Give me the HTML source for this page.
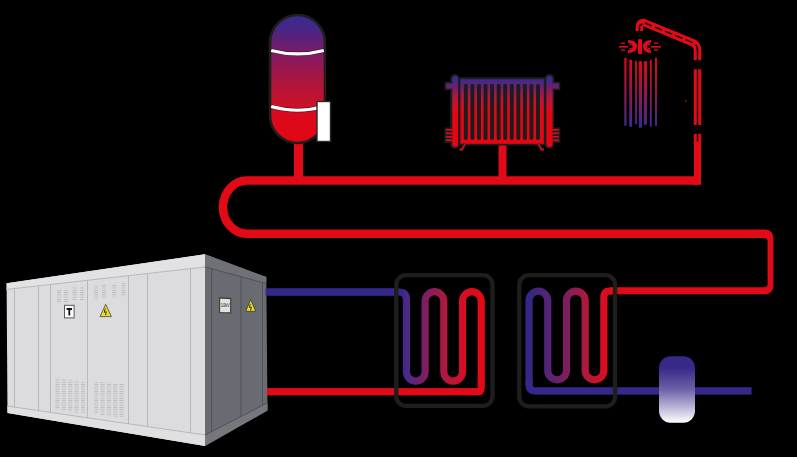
<!DOCTYPE html>
<html><head><meta charset="utf-8">
<style>
html,body{margin:0;padding:0;background:#000;width:797px;height:457px;overflow:hidden}
svg{display:block}
</style></head>
<body>
<svg width="797" height="457" viewBox="0 0 797 457">
<defs>
  <linearGradient id="tankG" gradientUnits="userSpaceOnUse" x1="0" y1="16" x2="0" y2="142">
    <stop offset="0" stop-color="#3b2a8e"/>
    <stop offset="0.08" stop-color="#43288a"/>
    <stop offset="0.19" stop-color="#5e1f76"/>
    <stop offset="0.29" stop-color="#7a1c68"/>
    <stop offset="0.35" stop-color="#8c185a"/>
    <stop offset="0.51" stop-color="#aa163e"/>
    <stop offset="0.67" stop-color="#c5122e"/>
    <stop offset="0.74" stop-color="#d00f28"/>
    <stop offset="0.78" stop-color="#dc0a1c"/>
    <stop offset="1" stop-color="#e30613"/>
  </linearGradient>
  <linearGradient id="radG" gradientUnits="userSpaceOnUse" x1="0" y1="78" x2="0" y2="113">
    <stop offset="0" stop-color="#3d2a8e"/>
    <stop offset="0.1" stop-color="#47288a"/>
    <stop offset="0.26" stop-color="#6e1f6e"/>
    <stop offset="0.4" stop-color="#961a52"/>
    <stop offset="0.63" stop-color="#be1436"/>
    <stop offset="0.88" stop-color="#de0a1b"/>
    <stop offset="1" stop-color="#e30613"/>
  </linearGradient>
  <linearGradient id="waterG" gradientUnits="userSpaceOnUse" x1="0" y1="58" x2="0" y2="127">
    <stop offset="0" stop-color="#e30613"/>
    <stop offset="1" stop-color="#3b2b8c"/>
  </linearGradient>
  <linearGradient id="hx1G" gradientUnits="userSpaceOnUse" x1="402" y1="0" x2="485" y2="0">
    <stop offset="0" stop-color="#382889"/>
    <stop offset="0.053" stop-color="#4b2887"/>
    <stop offset="0.278" stop-color="#7d1e64"/>
    <stop offset="0.504" stop-color="#aa1941"/>
    <stop offset="0.729" stop-color="#d20f28"/>
    <stop offset="0.954" stop-color="#e30a16"/>
    <stop offset="1" stop-color="#e30a16"/>
  </linearGradient>
  <linearGradient id="hx2G" gradientUnits="userSpaceOnUse" x1="525" y1="0" x2="612" y2="0">
    <stop offset="0" stop-color="#30288a"/>
    <stop offset="0.046" stop-color="#322882"/>
    <stop offset="0.263" stop-color="#552378"/>
    <stop offset="0.476" stop-color="#7d1e5f"/>
    <stop offset="0.695" stop-color="#af193c"/>
    <stop offset="0.906" stop-color="#d70f23"/>
    <stop offset="1" stop-color="#e30a16"/>
  </linearGradient>
  <linearGradient id="smallTankG" gradientUnits="userSpaceOnUse" x1="0" y1="356" x2="0" y2="423">
    <stop offset="0" stop-color="#36298a"/>
    <stop offset="0.18" stop-color="#37298a"/>
    <stop offset="0.5" stop-color="#6d62a8"/>
    <stop offset="1" stop-color="#ffffff"/>
  </linearGradient>
  <pattern id="vent" patternUnits="userSpaceOnUse" width="4" height="2.3">
    <rect x="0" y="0" width="4" height="1" fill="#bdbdc1"/>
  </pattern>
</defs>
<rect width="797" height="457" fill="#000"/>

<!-- ===== main red pipe ===== -->
<g fill="none" stroke="#e30a17" stroke-width="8.6" stroke-linejoin="miter">
  <path d="M697.5 180.5 H247 A24 26.65 0 0 0 247 233.8 H690"/>
</g>
<path fill="#e30a17" d="M690 229.5 H765.4 A8 8 0 0 1 773.4 237.5 V286.3 A8 8 0 0 1 765.4 294.3 H610 V287.3 H764 A3.6 3.6 0 0 0 767.6 283.7 V241.6 A3.6 3.6 0 0 0 764 238.1 H690 Z"/>
<rect x="694" y="142" width="7" height="42.8" fill="#e30a17"/>
<!-- tank drop pipe -->
<rect x="294" y="140" width="9" height="42" fill="#e30a17"/>
<!-- radiator drop pipe -->
<rect x="498.5" y="144" width="8" height="38" fill="#e30a17"/>

<!-- ===== expansion tank ===== -->
<rect x="270" y="15" width="55" height="128" rx="27.5" ry="27.5" fill="url(#tankG)" stroke="#1e1e1c" stroke-width="2.6"/>
<path d="M271.2 50.4 Q297.5 57.4 323.8 50.4" fill="none" stroke="#000" stroke-opacity="0.4" stroke-width="4.6"/>
<path d="M271.2 50.4 Q297.5 57.4 323.8 50.4" fill="none" stroke="#fff" stroke-width="3.1"/>
<path d="M271.2 106.6 Q297.5 114 323.8 106.6" fill="none" stroke="#000" stroke-opacity="0.4" stroke-width="4.6"/>
<path d="M271.2 106.6 Q297.5 114 323.8 106.6" fill="none" stroke="#fff" stroke-width="3.1"/>
<rect x="317" y="101.5" width="13.5" height="40" fill="#fff" stroke="#2a2a2a" stroke-width="1.4"/>

<!-- ===== radiator ===== -->
<g fill="#1e1e1c">
  <rect x="458.5" y="77.2" width="87.2" height="68.4"/>
  <rect x="450.2" y="74" width="9.6" height="75" rx="4.8"/>
  <rect x="544.5" y="74" width="9.8" height="75" rx="4.9"/>
  <rect x="444.5" y="81.8" width="8" height="8.4"/>
  <rect x="552" y="81.8" width="8.3" height="8.4"/>
  <rect x="444.5" y="127.5" width="8" height="15.5"/>
  <rect x="552" y="127.5" width="8.3" height="15.5"/>
</g>
<g fill="url(#radG)">
  <rect x="460.5" y="79.2" width="83.3" height="64.6"/>
  <rect x="452.3" y="76" width="5.8" height="71" rx="2.9"/>
  <rect x="546.4" y="76" width="6.2" height="71" rx="3.1"/>
  <rect x="446" y="83.4" width="6.5" height="5.2"/>
  <rect x="552.5" y="83.4" width="6.3" height="5.2"/>
</g>
<g fill="#1c1c1c">
  <rect x="463.90" y="83.8" width="3.9" height="56.2" rx="1.95"/>
  <rect x="470.46" y="83.8" width="3.9" height="56.2" rx="1.95"/>
  <rect x="477.02" y="83.8" width="3.9" height="56.2" rx="1.95"/>
  <rect x="483.58" y="83.8" width="3.9" height="56.2" rx="1.95"/>
  <rect x="490.14" y="83.8" width="3.9" height="56.2" rx="1.95"/>
  <rect x="496.70" y="83.8" width="3.9" height="56.2" rx="1.95"/>
  <rect x="503.26" y="83.8" width="3.9" height="56.2" rx="1.95"/>
  <rect x="509.82" y="83.8" width="3.9" height="56.2" rx="1.95"/>
  <rect x="516.38" y="83.8" width="3.9" height="56.2" rx="1.95"/>
  <rect x="522.94" y="83.8" width="3.9" height="56.2" rx="1.95"/>
  <rect x="529.50" y="83.8" width="3.9" height="56.2" rx="1.95"/>
  <rect x="536.06" y="83.8" width="3.9" height="56.2" rx="1.95"/>
</g>
<g fill="#e30a17">
  <rect x="446" y="129" width="6.5" height="1.6"/>
  <rect x="446" y="132.5" width="6.5" height="1.6"/>
  <rect x="446" y="136" width="6.5" height="1.6"/>
  <rect x="446" y="139.5" width="6.5" height="1.6"/>
  <rect x="552.5" y="129" width="6.3" height="1.6"/>
  <rect x="552.5" y="132.5" width="6.3" height="1.6"/>
  <rect x="552.5" y="136" width="6.3" height="1.6"/>
  <rect x="552.5" y="139.5" width="6.3" height="1.6"/>
</g>
<g fill="none" stroke="#1e1e1c" stroke-width="3.5">
  <path d="M465 144 L462 149.5 H459.5"/>
  <path d="M538.5 144 L541.5 149.5 H544"/>
</g>
<g fill="none" stroke="#e30a17" stroke-width="1.5">
  <path d="M465 144 L462 149.5 H459.5"/>
  <path d="M538.5 144 L541.5 149.5 H544"/>
</g>

<!-- ===== shower ===== -->
<g fill="none" stroke="#e30a17" stroke-width="7.5">
  <path d="M639.3 31 V27 Q639.3 22.4 644 22.6 L693 42.7 Q697.5 44.7 697.5 50.2 V60.2"/>
  <path d="M697.5 69.2 V125 M697.5 133.8 V144"/>
</g>
<g fill="none" stroke="#000" stroke-width="1.4">
  <path d="M639.5 31.5 V26.5 Q639.5 24.3 642.5 24.3"/>
  <path d="M697.5 48 V61 M697.5 69 V126 M697.5 133 V141.5"/>
  <path d="M644 22.6 L693 42.7 Q697.5 44.7 697.5 50.2" stroke-dasharray="7.5 3.5" stroke-dashoffset="-1"/>
</g>
<rect x="685" y="100.5" width="1.5" height="1.2" fill="#e30a17"/>
<g fill="#e30a17">
  <rect x="638" y="39.2" width="4" height="14.8"/>
  <path d="M628 40 Q637 40 637 46.5 Q637 53 628 53 V50.3 Q632.5 50.3 632.5 46.5 Q632.5 42.7 628 42.7 Z"/>
  <rect x="629.5" y="43.5" width="2" height="1.6"/><rect x="629.5" y="48" width="2" height="1.6"/>
  <path d="M651 40 Q643 40 643 46.5 Q643 53 651 53 V50.3 Q647.2 50.3 647.2 46.5 Q647.2 42.7 651 42.7 Z"/>
  <rect x="648" y="43.5" width="2" height="1.6"/><rect x="648" y="48" width="2" height="1.6"/>
  <rect x="619" y="46" width="9" height="1.6"/>
  <rect x="621" y="42.5" width="4" height="1.3"/>
  <rect x="621" y="49.5" width="4" height="1.3"/>
  <rect x="651" y="46" width="10" height="1.6"/>
  <rect x="654" y="42.5" width="4" height="1.3"/>
  <rect x="654" y="49.5" width="4" height="1.3"/>
</g>
<g fill="url(#waterG)">
  <rect x="624.3" y="57.8" width="2.2" height="68"/>
  <rect x="629.3" y="59.7" width="2.8" height="67"/>
  <rect x="635" y="60.8" width="1.9" height="63.5"/>
  <rect x="638.8" y="61.2" width="3.2" height="66.5"/>
  <rect x="643.8" y="61.2" width="3.2" height="63.5"/>
  <rect x="650" y="59.7" width="1.8" height="67"/>
  <rect x="655" y="57.8" width="2" height="68"/>
</g>

<!-- ===== transformer ===== -->
<g>
  <polygon points="6.6,283.2 205,254.2 205,446 7.5,413" fill="#dcdcdf"/>
  <polygon points="205,254.2 266.3,277 267.5,410.6 205,446" fill="#696b72"/>
  <polygon points="205,254.2 266.3,277 266.3,283.5 205,267" fill="#6f7177"/>
  <polygon points="205,435 267.5,403 267.5,410.6 205,446" fill="#75777d"/>
  <polygon points="6.6,283.2 205,254.2 205,267 6.6,289.5" fill="#e2e2e5"/>
  <polygon points="7.4,406 205,435 205,446 7.5,413" fill="#e0e0e3"/>
  <g stroke="#b8b8bc" stroke-width="1" fill="none">
    <path d="M6 289.5 L205 267"/>
    <path d="M7 406 L205 435"/>
    <path d="M14.5 288.6 V407.1 M38.5 286 V410.6 M50.5 284.5 V412.5 M87.5 280.5 V417.8 M128.5 275.7 V424 M147.5 273.5 V426.8 M190.5 268.7 V433"/>
  </g>
  <g stroke="#4e4f54" stroke-width="0.9" fill="none">
    <path d="M205 267 L266 283.5"/>
    <path d="M205 435 L267 403"/>
    <path d="M211.7 268.8 V431.6 M241 276.7 V416.5 M262.5 282.5 V405.5"/>
  </g>
  <!-- top vents -->
  <g fill="url(#vent)">
    <rect x="57" y="289" width="4" height="13.6"/>
    <rect x="63.8" y="289" width="4" height="13.6"/>
    <rect x="72.6" y="287" width="4" height="13.6"/>
    <rect x="80.1" y="287" width="4" height="13.6"/>
    <rect x="94.2" y="285.5" width="4" height="14"/>
    <rect x="102" y="285" width="4" height="14"/>
    <rect x="112.2" y="284" width="4" height="13.6"/>
    <rect x="121.5" y="283" width="4" height="13.6"/>
    <rect x="55.4" y="378.4" width="4.2" height="31"/>
    <rect x="61.8" y="379" width="4.1" height="31.5"/>
    <rect x="68" y="379.8" width="4.3" height="32"/>
    <rect x="74.4" y="380.6" width="4.2" height="32.3"/>
    <rect x="81" y="381.4" width="4.1" height="32"/>
    <rect x="94.3" y="381.4" width="3.8" height="32.5"/>
    <rect x="100.5" y="382" width="4.2" height="33"/>
    <rect x="106.8" y="382.6" width="4.3" height="33.5"/>
    <rect x="113.2" y="383.2" width="4.2" height="33.5"/>
    <rect x="119.5" y="383.8" width="4.1" height="33.2"/>
  </g>
  <!-- T sign -->
  <rect x="64.5" y="305.3" width="9.6" height="12.6" fill="#fff" stroke="#55555a" stroke-width="1"/>
  <path d="M66.6 308 H72 V310 H70.2 V315.5 H68.4 V310 H66.6 Z" fill="#111"/>
  <!-- warning front -->
  <polygon points="105.7,304.3 111.4,316.6 100,316.6" fill="#eddc24" stroke="#555" stroke-width="0.9"/>
  <path d="M105.2 308.5 L104.3 312.3 L106.3 311.8 L105.6 315.2" fill="none" stroke="#222" stroke-width="0.9"/>
  <!-- 10kV sign -->
  <polygon points="219.6,297.9 230.7,298.6 230.7,312.9 219.6,312.5" fill="#e2e2e2" stroke="#3a3a36" stroke-width="1.1"/>
  <text x="220.8" y="307.3" font-family="Liberation Sans, sans-serif" font-size="5" textLength="8.8" lengthAdjust="spacingAndGlyphs" fill="#111" style="-webkit-font-smoothing:antialiased">10kV</text>
  <!-- warning side -->
  <polygon points="250.7,299.6 255.8,311.3 245.6,311.3" fill="#eddc24" stroke="#4a4a40" stroke-width="1"/>
  <path d="M250.2 303.8 L249.4 307.5 L251.3 307 L250.6 310.6" fill="none" stroke="#222" stroke-width="0.9"/>
</g>

<!-- ===== lower pipes ===== -->
<rect x="265.6" y="288.2" width="132.4" height="7.6" fill="#34288a"/>
<rect x="267" y="388.1" width="203" height="7.2" fill="#e30a17"/>
<rect x="540" y="387.2" width="211.6" height="7.4" fill="#34288a"/>

<!-- HX1 coil -->
<path d="M398 292 H398.9 Q406.4 292 406.4 299.5 V371.75 A9.35 9.35 0 0 0 425.10 371.75 V301.05 A9.35 9.35 0 0 1 443.80 301.05 V371.75 A9.35 9.35 0 0 0 462.50 371.75 V301.05 A9.35 9.35 0 0 1 481.20 301.05 V380" fill="none" stroke="url(#hx1G)" stroke-width="7.2"/>
<path d="M481.2 379 V387.9 Q481.2 391.7 477.4 391.7 H470" fill="none" stroke="#e30a17" stroke-width="7.2"/>
<!-- HX2 coil -->
<path d="M529.05 384.5 V300.55 A9.35 9.35 0 0 1 547.75 300.55 V370.45 A9.35 9.35 0 0 0 566.45 370.45 V300.55 A9.35 9.35 0 0 1 585.15 300.55 V370.45 A9.35 9.35 0 0 0 603.85 370.45 V300.55 V297 Q603.85 291 609.85 291 H613" fill="none" stroke="url(#hx2G)" stroke-width="7.2"/>
<path d="M540 390.9 H535.5 Q529.05 390.9 529.05 384.4 V380" fill="none" stroke="#34288a" stroke-width="7.4"/>

<!-- HX boxes -->
<rect x="396.3" y="275.2" width="96.2" height="130.6" rx="9.6" fill="none" stroke="#1e1e1c" stroke-width="4.3"/>
<rect x="519.3" y="275.2" width="95.8" height="131.2" rx="9.6" fill="none" stroke="#1e1e1c" stroke-width="4.3"/>

<!-- small tank -->
<rect x="659" y="356.2" width="36" height="66.6" rx="11.5" ry="12" fill="url(#smallTankG)"/>
</svg>
</body></html>
